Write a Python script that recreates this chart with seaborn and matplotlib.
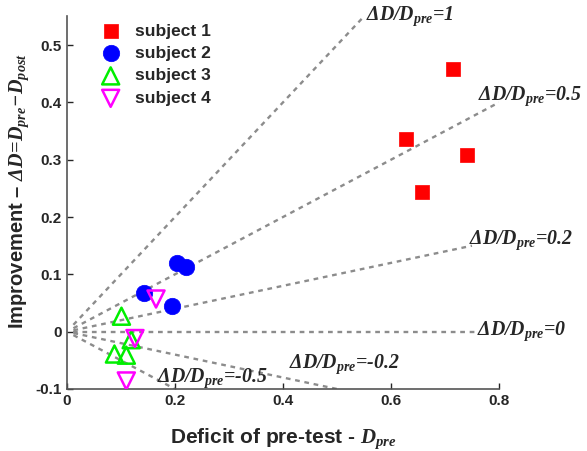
import numpy as np
import pandas as pd
import matplotlib
matplotlib.use("Agg")
import matplotlib.pyplot as plt
import seaborn as sns

# data
s1_x = [0.714, 0.628, 0.740, 0.657]
s1_y = [0.459, 0.336, 0.309, 0.243]
s2_x = [0.203, 0.220, 0.143, 0.194]
s2_y = [0.119, 0.112, 0.067, 0.045]
s3_x = [0.101, 0.119, 0.088, 0.110]
s3_y = [0.027, -0.014, -0.039, -0.041]
s4_x = [0.165, 0.126, 0.110]
s4_y = [0.057, -0.012, -0.086]

ratios = [1, 0.5, 0.2, 0, -0.2, -0.5]
ratio_txt = ["1", "0.5", "0.2", "0", "-0.2", "-0.5"]
line_end = [0.55, 0.80, 0.75, 0.76, 0.50, 0.20]
label_pos = [(0.553, 0.551), (0.762, 0.410), (0.745, 0.160),
             (0.760, 0.000), (0.412, -0.057), (0.166, -0.082)]

df = pd.concat([
    pd.DataFrame({"x": s1_x, "y": s1_y, "subject": "subject 1"}),
    pd.DataFrame({"x": s2_x, "y": s2_y, "subject": "subject 2"}),
    pd.DataFrame({"x": s3_x, "y": s3_y, "subject": "subject 3"}),
    pd.DataFrame({"x": s4_x, "y": s4_y, "subject": "subject 4"}),
])

sns.set_style("ticks")
plt.rcParams["font.family"] = ["Liberation Sans", "DejaVu Sans"]
plt.rcParams["mathtext.fontset"] = "custom"
plt.rcParams["mathtext.rm"] = "Liberation Serif:bold:italic"
plt.rcParams["mathtext.it"] = "Liberation Serif:bold:italic"
plt.rcParams["mathtext.bf"] = "Liberation Serif:bold:italic"

fig = plt.figure(figsize=(5.87, 4.51), dpi=100)
ax = fig.add_axes([0.114, 0.1375, 0.736, 0.826])

# reference lines dD/Dpre = k
for k, xe, txt, (tx, ty) in zip(ratios, line_end, ratio_txt, label_pos):
    xs = np.linspace(0.012, xe, 50)
    ax.plot(xs, k * xs, ls=(0, (2, 2)), color="#8c8c8c", lw=1.7, zorder=1)
    ax.text(tx, ty, r"$\Delta D/D_{pre}$=" + txt, fontsize=14.3, family="Liberation Serif",
            weight="bold", style="italic", va="center", ha="left", clip_on=False,
            zorder=3)

styles = {
    "subject 1": dict(marker="s", s=95, color="red", edgecolor="red", linewidth=0.5),
    "subject 2": dict(marker="o", s=140, color="blue", edgecolor="blue", linewidth=0.5),
    "subject 3": dict(marker="^", s=150, facecolor="none", edgecolor="#00ee00", linewidth=1.8),
    "subject 4": dict(marker="v", s=150, facecolor="none", edgecolor="magenta", linewidth=1.8),
}
for name, kw in styles.items():
    sub = df[df["subject"] == name]
    sns.scatterplot(data=sub, x="x", y="y", ax=ax, label=name, zorder=4, **kw)

ax.set_xlim(0, 0.8)
ax.set_ylim(-0.1, 0.55)
ax.set_xticks([0, 0.2, 0.4, 0.6, 0.8])
ax.set_xticklabels(["0", "0.2", "0.4", "0.6", "0.8"])
ax.set_yticks([-0.1, 0, 0.1, 0.2, 0.3, 0.4, 0.5])
ax.set_yticklabels(["-0.1", "0", "0.1", "0.2", "0.3", "0.4", "0.5"])
ax.tick_params(direction="in", length=4, labelsize=11, width=1)
for lab in ax.get_xticklabels() + ax.get_yticklabels():
    lab.set_fontweight("bold")
sns.despine(ax=ax)
for sp in ["left", "bottom"]:
    ax.spines[sp].set_color("#555555")
    ax.spines[sp].set_linewidth(1.2)

ax.set_xlabel(r"Deficit of pre-test - $D_{pre}$", fontsize=15, fontweight="bold")
ax.xaxis.set_label_coords(0.5, -0.102)
ax.set_ylabel(r"Improvement – $\Delta D\!=\!D_{pre}\!-\!D_{post}$", fontsize=14.5,
              fontweight="bold")
ax.yaxis.set_label_coords(-0.083, 0.53)

leg = ax.legend(loc="upper left", bbox_to_anchor=(0.045, 1.0), frameon=False,
                prop={"weight": "bold", "size": 12.5}, handletextpad=0.4,
                labelspacing=0.42, borderaxespad=0)

fig.savefig("out.png", dpi=100)
